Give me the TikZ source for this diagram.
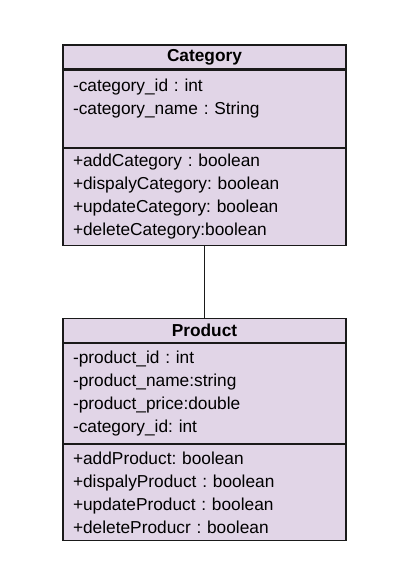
\documentclass[tikz,border=0pt]{standalone}
\usepackage{fontspec}
\setmainfont{Liberation Sans}
\usepackage{xcolor}
\usetikzlibrary{positioning}
\definecolor{umlfill}{HTML}{E1D5E7}
\definecolor{umlline}{HTML}{1A1A1A}
\frenchspacing

\begin{document}
\begin{tikzpicture}[x=1pt, y=-1pt, line width=1.2pt,
titlebox/.style = {draw=umlline, fill=umlfill, rectangle, inner xsep=10pt, inner ysep=0pt,
  text width=263pt, align=center, minimum height=24pt, font=\fontsize{17.3}{23}\selectfont\bfseries},
bodybox/.style = {draw=umlline, fill=umlfill, rectangle, inner xsep=10pt, inner ysep=0pt,
  text width=263pt, align=left, font=\fontsize{17.3}{23}\selectfont}]
\useasboundingbox (0,0) rectangle (408,585);
\node[titlebox] (cat) at (204.5,57) {Category};
\node[bodybox, minimum height=77pt] (catattr) [below=0pt of cat] {-category\_id : int\\ -category\_name : String\\ \mbox{}};
\node[bodybox, minimum height=97pt] (catmeth) [below=0pt of catattr] {+addCategory : boolean\\ +dispalyCategory: boolean\\ +updateCategory: boolean\\ +deleteCategory:boolean};
\node[titlebox] (prod) at (204.5,330.3) {Product};
\node[bodybox, minimum height=100pt] (prodattr) [below=0pt of prod] {-product\_id : int\\ -product\_name:string\\ -product\_price:double\\ -category\_id: int};
\node[bodybox, minimum height=96pt] (prodmeth) [below=0pt of prodattr] {+addProduct: boolean\\ +dispalyProduct : boolean\\ +updateProduct : boolean\\ +deleteProducr : boolean};
\draw[umlline] (catmeth.south) -- (prod.north);
\end{tikzpicture}
\end{document}
